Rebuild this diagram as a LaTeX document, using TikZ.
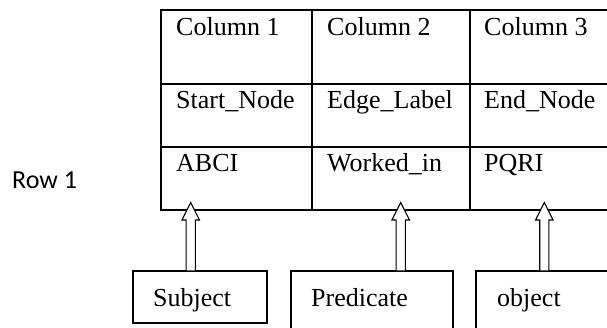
\documentclass[tikz,border=0pt]{standalone}
\usepackage{fontspec}
\setmainfont{Liberation Serif}
\newfontfamily\calfont{Carlito}
\begin{document}
\begin{tikzpicture}[x=1pt,y=1pt,
  tline/.style={line width=2pt},
  cell/.style={anchor=base west,inner sep=0pt,font=\fontsize{26}{30}\selectfont},
  boxline/.style={line width=1.6pt},
  blockarrow/.style={draw,fill=white,line width=1.1pt,line join=miter}]
\useasboundingbox (0,0) rectangle (607,-327);
% table
\draw[tline] (610,-10) -- (161,-10) -- (161,-210) -- (610,-210);
\draw[tline] (161,-84) -- (610,-84);
\draw[tline] (161,-147) -- (610,-147);
\draw[tline] (312,-10) -- (312,-210);
\draw[tline] (470,-10) -- (470,-210);
% cells
\node[cell] (c11) at (176,-35) {Column 1};
\node[cell] (c12) at (327,-35) {Column 2};
\node[cell] (c13) at (484,-35) {Column 3};
\node[cell] (c21) at (176,-108) {Start\_Node};
\node[cell] (c22) at (327,-108) {Edge\_Label};
\node[cell] (c23) at (484,-108) {End\_Node};
\node[cell] (c31) at (176,-171) {ABCI};
\node[cell] (c32) at (327,-171) {Worked\_in};
\node[cell] (c33) at (484,-171) {PQRI};
% row label
\node[anchor=base west,inner sep=0pt,font=\calfont\fontsize{26}{30}\selectfont] (row) at (12,-188) {Row 1};
% boxes
\draw[boxline] (133,-271) rectangle (267,-323);
\draw[boxline] (291,-330) -- (291,-271) -- (453,-271) -- (453,-330);
\draw[boxline] (476,-330) -- (476,-271) -- (610,-271);
\node[cell] (subj) at (153,-306) {Subject};
\node[cell] (pred) at (311,-306) {Predicate};
\node[cell] (obj) at (497,-306) {object};
% block arrows
\foreach \n/\x in {a1/190.7,a2/400.7,a3/544.3}{
  \coordinate (\n) at (\x,-202.5);
  \draw[blockarrow] (\n) -- ++(8.8,-17.5) -- ++(-4.2,0) -- ++(0,-51) -- ++(-9.2,0) -- ++(0,51) -- ++(-4.2,0) -- cycle;
}
\end{tikzpicture}
\end{document}
